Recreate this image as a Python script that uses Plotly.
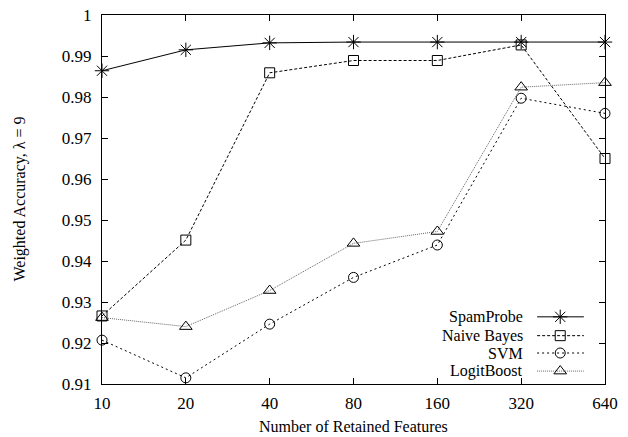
import plotly.graph_objects as go

features = [10, 20, 40, 80, 160, 320, 640]
spamprobe = [0.9864, 0.9915, 0.9932, 0.9934, 0.9934, 0.9934, 0.9934]
naive_bayes = [0.9266, 0.9451, 0.9859, 0.9889, 0.9889, 0.9927, 0.9650]
svm = [0.9207, 0.9115, 0.9246, 0.9360, 0.9439, 0.9797, 0.9760]
logitboost = [0.9262, 0.9240, 0.9328, 0.9443, 0.9472, 0.9824, 0.9835]
y_ticks = [0.91, 0.92, 0.93, 0.94, 0.95, 0.96, 0.97, 0.98, 0.99, 1.0]
y_tick_labels = ["0.91", "0.92", "0.93", "0.94", "0.95", "0.96", "0.97", "0.98", "0.99", "1"]

series = [
    ("SpamProbe", spamprobe, "solid", "black", "asterisk-open", 12),
    ("Naive Bayes", naive_bayes, "3px,2px", "black", "square-open", 10),
    ("SVM", svm, "2px,3px", "black", "circle-open", 10),
    ("LogitBoost", logitboost, "1px,1px", "#666666", "triangle-up-open", 11),
]

FONT = "Liberation Serif, Times New Roman, serif"
fig = go.Figure()
for name, vals, dash, col, sym, sz in series:
    fig.add_trace(go.Scatter(
        x=features, y=vals, mode="lines+markers", name=name,
        line=dict(color=col, width=1, dash=dash),
        marker=dict(symbol=sym, size=sz, color="black", line=dict(width=1, color="black")),
        showlegend=False, cliponaxis=False,
    ))

# custom gnuplot-style legend (text right, sample on the right)
row_y = [0.182, 0.131, 0.084, 0.035]
for (name, vals, dash, col, sym, sz), ry in zip(series, row_y):
    fig.add_trace(go.Scatter(
        x=[0.865, 0.958], y=[ry, ry], mode="lines", xaxis="x2", yaxis="y2",
        line=dict(color=col, width=1, dash=dash), showlegend=False, hoverinfo="skip"))
    fig.add_trace(go.Scatter(
        x=[0.911], y=[ry], mode="markers", xaxis="x2", yaxis="y2",
        marker=dict(symbol=sym, size=sz, color="black", line=dict(width=1, color="black")),
        showlegend=False, hoverinfo="skip"))
    fig.add_annotation(x=0.841, y=ry, xref="x2", yref="y2", text=name, showarrow=False,
                       xanchor="right", yanchor="middle", font=dict(family=FONT, size=16, color="black"))

# axis titles
fig.add_annotation(x=0.5, y=-0.115, xref="paper", yref="paper", text="Number of Retained Features",
                   showarrow=False, xanchor="center", yanchor="middle",
                   font=dict(family=FONT, size=16, color="black"))
fig.add_annotation(x=-0.165, y=0.5, xref="paper", yref="paper", text="Weighted Accuracy, λ = 9",
                   showarrow=False, textangle=-90, xanchor="center", yanchor="middle",
                   font=dict(family=FONT, size=16, color="black"))

axis_common = dict(showgrid=False, zeroline=False, showline=True, linecolor="black", linewidth=1,
                   mirror="ticks", ticks="inside", ticklen=6, tickcolor="black", automargin=False,
                   tickfont=dict(family=FONT, size=17, color="black"))

fig.update_layout(
    width=628, height=437,
    margin=dict(l=102, r=23, t=15, b=53),
    paper_bgcolor="white", plot_bgcolor="white",
    xaxis=dict(type="log", range=[1, 2.80618], tickvals=features, ticktext=[str(f) for f in features],
               ticklabelstandoff=4, **axis_common),
    yaxis=dict(range=[0.91, 1.0000001], tickvals=y_ticks, ticktext=y_tick_labels,
               ticklabelstandoff=6, **axis_common),
    xaxis2=dict(range=[0, 1], overlaying="x", visible=False, domain=[0, 1]),
    yaxis2=dict(range=[0, 1], overlaying="y", visible=False, domain=[0, 1]),
)

# remove the browser's default 8px body margin so the figure fills the window
fig.write_html("out.html", config={"displayModeBar": False},
               post_script="document.body.style.margin='0';")
